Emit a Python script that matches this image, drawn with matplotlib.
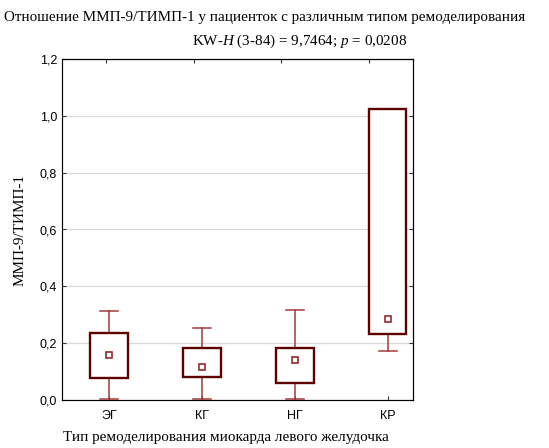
import matplotlib
matplotlib.use("Agg")
import matplotlib.pyplot as plt
import numpy as np

plt.rcParams["mathtext.fontset"] = "custom"
plt.rcParams["mathtext.rm"] = "Liberation Serif"
plt.rcParams["mathtext.it"] = "Liberation Serif:italic"

groups = ["ЭГ", "КГ", "НГ", "КР"]
whisk_lo = [0.005, 0.005, 0.005, 0.171]
box_lo = [0.077, 0.080, 0.059, 0.232]
box_hi = [0.235, 0.183, 0.183, 1.024]
whisk_hi = [0.314, 0.253, 0.317, 1.024]
center = [0.158, 0.117, 0.140, 0.284]
yticks = [0.0, 0.2, 0.4, 0.6, 0.8, 1.0, 1.2]

box_col = "#5c0000"
whisk_col = "#a33a3a"

fig = plt.figure(figsize=(5.49, 4.48), dpi=100)
ax = fig.add_axes([62 / 549, 48 / 448, 351 / 549, 341 / 448])

x = np.arange(1, len(groups) + 1)
bw = 0.4
cw = 0.19
for xi, wl, bl, bh, wh, c in zip(x, whisk_lo, box_lo, box_hi, whisk_hi, center):
    ax.plot([xi, xi], [wl, bl], color=whisk_col, lw=1.1, zorder=2)
    ax.plot([xi, xi], [bh, wh], color=whisk_col, lw=1.1, zorder=2)
    if wl < bl:
        ax.plot([xi - cw / 2, xi + cw / 2], [wl, wl], color=whisk_col, lw=1.1, zorder=2)
    if wh > bh:
        ax.plot([xi - cw / 2, xi + cw / 2], [wh, wh], color=whisk_col, lw=1.1, zorder=2)
    ax.add_patch(plt.Rectangle((xi - bw / 2, bl), bw, bh - bl, facecolor="white",
                               edgecolor=box_col, lw=1.7, zorder=3))
    ax.plot(xi, c, marker="s", ms=4, mfc="white", mec="#9a2a2a", mew=1.2, zorder=4)

ax.set_xlim(0.495, 4.27)
ax.set_ylim(0, 1.2)
ax.set_xticks(x)
ax.set_xticklabels(groups, fontsize=9, family="Liberation Sans")
ax.set_yticks(yticks)
ax.set_yticklabels([f"{v:.1f}".replace(".", ",") for v in yticks], fontsize=9,
                   family="Liberation Sans")
ax.tick_params(axis="both", direction="in", length=3, colors="#333333",
               labelcolor="black", right=True)
ax.tick_params(axis="x", pad=7)
ax.grid(axis="y", color="#d9d9d9", lw=0.9, zorder=0)
ax.set_axisbelow(True)
for s in ["left", "bottom"]:
    ax.spines[s].set_color("#666666")
for s in ["top", "right"]:
    ax.spines[s].set_color("black")

top = ax.twiny()
top.set_xlim(ax.get_xlim())
top.set_xticks([0.967, 1.91, 2.85, 3.80])
top.set_xticklabels([])
top.tick_params(direction="in", length=3, colors="#333333")

fig.text(265 / 549, 1 - 18 / 448, "Отношение ММП-9/ТИМП-1 у пациенток с различным типом ремоделирования",
         ha="center", va="center", fontsize=10.9, family="Liberation Serif")
fig.text(300 / 549, 1 - 41 / 448, r"KW-$\it{H}$ (3-84) = 9,7464; $\it{p}$ = 0,0208",
         ha="center", va="center", fontsize=10.9, family="Liberation Serif")
fig.text(20 / 549, 1 - 230 / 448, "ММП-9/ТИМП-1", rotation=90, ha="center", va="center",
         fontsize=10.9, family="Liberation Serif")
fig.text(226 / 549, 1 - 437 / 448, "Тип ремоделирования миокарда левого желудочка",
         ha="center", va="center", fontsize=10.9, family="Liberation Serif")

fig.savefig("out.png", dpi=100)
